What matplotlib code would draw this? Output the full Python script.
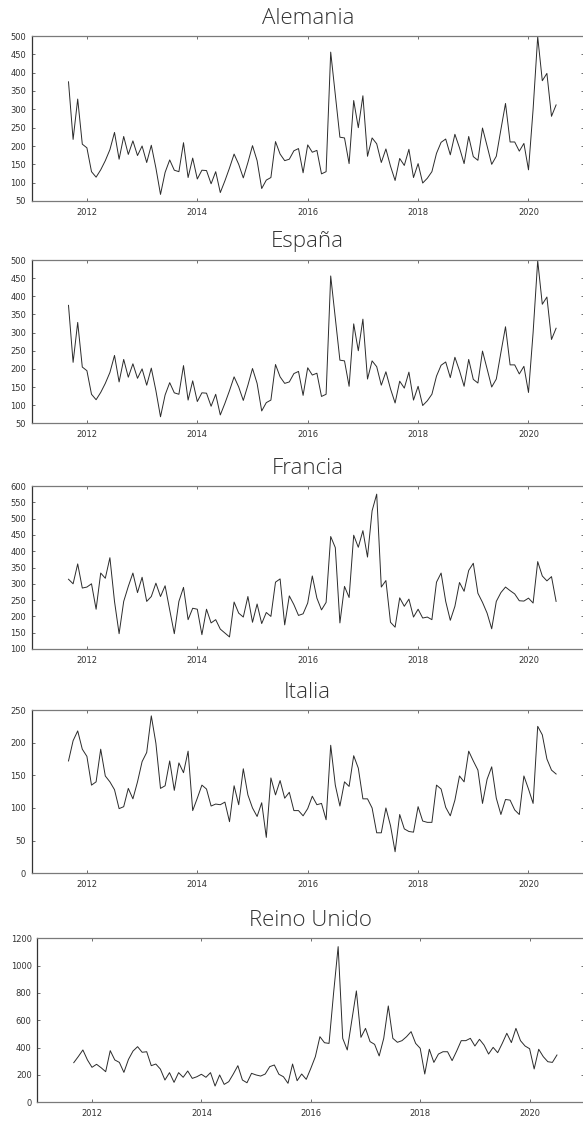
import matplotlib
matplotlib.use("Agg")
import matplotlib.pyplot as plt
import numpy as np

# Monthly series, Sep 2011 .. Jul 2020
start_year, start_month = 2011, 9

alemania = [375, 218, 328, 205, 195, 130, 115, 135, 160, 190,
            237, 164, 226, 177, 214, 174, 200, 155, 202, 140,
            68, 128, 162, 134, 130, 209, 114, 167, 110, 134,
            133, 97, 130, 73, 105, 140, 178, 150, 113, 155,
            201, 160, 84, 107, 114, 212, 178, 160, 164, 187,
            193, 127, 203, 183, 188, 124, 130, 456, 340, 224,
            222, 152, 324, 250, 337, 172, 222, 206, 155, 192,
            145, 106, 166, 147, 191, 114, 152, 99, 112, 130,
            180, 210, 219, 176, 232, 195, 152, 226, 171, 161,
            249, 200, 150, 172, 245, 316, 211, 211, 186, 207,
            135, 300, 498, 378, 398, 281, 312]

espana = list(alemania)

francia = [314, 300, 361, 287, 290, 300, 222, 333, 317, 380,
           246, 147, 246, 292, 333, 273, 320, 246, 261, 302,
           261, 294, 220, 147, 246, 289, 190, 225, 222, 144,
           222, 180, 190, 161, 149, 137, 244, 210, 198, 261,
           182, 238, 178, 212, 200, 305, 315, 174, 263, 236,
           203, 208, 241, 324, 256, 220, 243, 445, 411, 180,
           292, 258, 449, 412, 463, 382, 524, 575, 290, 310,
           182, 167, 257, 231, 253, 198, 222, 195, 198, 190,
           305, 333, 246, 188, 231, 304, 277, 341, 363, 271,
           243, 210, 162, 246, 273, 290, 279, 269, 248, 247,
           256, 241, 368, 324, 309, 322, 246]

italia = [172, 203, 218, 190, 179, 135, 140, 190, 149, 140,
          128, 99, 102, 130, 114, 140, 171, 185, 241, 199,
          130, 134, 172, 127, 169, 154, 187, 96, 115, 135,
          129, 103, 106, 105, 109, 79, 134, 105, 160, 120,
          100, 87, 108, 55, 146, 120, 142, 115, 124, 96,
          96, 88, 99, 118, 105, 107, 82, 196, 135, 103,
          140, 133, 180, 161, 114, 114, 100, 62, 62, 100,
          73, 33, 90, 68, 64, 63, 102, 80, 78, 78,
          135, 129, 101, 88, 112, 149, 140, 187, 172, 158,
          107, 144, 163, 115, 90, 113, 112, 97, 90, 149,
          129, 107, 225, 212, 175, 158, 152]

reino_unido = [290, 335, 383, 310, 256, 278, 253, 224, 378, 310,
               292, 219, 314, 375, 407, 366, 370, 268, 280, 243,
               163, 217, 146, 217, 183, 229, 175, 187, 205, 183,
               217, 119, 200, 131, 151, 207, 268, 163, 143, 212,
               200, 192, 207, 261, 273, 205, 187, 139, 280, 158,
               207, 168, 248, 334, 480, 436, 431, 800, 1139, 468,
               383, 600, 815, 475, 541, 444, 424, 339, 468, 705,
               468, 439, 451, 480, 517, 431, 395, 207, 388, 292,
               353, 370, 370, 305, 375, 451, 451, 468, 412, 461,
               419, 353, 402, 363, 431, 505, 437, 541, 451, 412,
               392, 244, 388, 334, 297, 292, 346]

titles = ["Alemania", "España", "Francia", "Italia", "Reino Unido"]
series = [alemania, espana, francia, italia, reino_unido]
ylims = [(50, 500), (50, 500), (100, 600), (0, 250), (0, 1200)]
ysteps = [50, 50, 50, 50, 200]
year_ticks = [2012, 2014, 2016, 2018, 2020]

W, H = 583, 1122
fig = plt.figure(figsize=(W / 100, H / 100), dpi=100)

# axes boxes in pixels: (left, top, right, bottom)
boxes = [(31.7, 36, 583.7, 201),
         (31.7, 260, 583.7, 423.3),
         (31.7, 486, 583.7, 649),
         (31.7, 710, 583.7, 873.3),
         (37.3, 938.3, 584.3, 1102.3)]

spine_col = "#7a7a7a"
for title, vals, ylim, step, box in zip(titles, series, ylims, ysteps, boxes):
    l, t, r, b = box
    ax = fig.add_axes([l / W, 1 - b / H, (r - l) / W, (b - t) / H])
    n = len(vals)
    x = np.array([start_year + (start_month - 1 + k) / 12.0 for k in range(n)])
    ax.plot(x, vals, color="#2b2b2b", lw=0.7)
    ax.set_xlim(2011, 2021)
    ax.set_ylim(*ylim)
    ax.set_xticks(year_ticks)
    ax.set_yticks(np.arange(ylim[0], ylim[1] + 1, step))
    ax.tick_params(direction="in", length=2.5, width=0.6, color="#555555",
                   top=True, right=True, labelsize=6, labelcolor="#333333")
    ax.tick_params(axis="x", pad=5)
    ax.tick_params(axis="y", pad=4)
    for s in ax.spines.values():
        s.set_color(spine_col)
        s.set_linewidth(0.9)
    ax.spines["left"].set_color("#333333")
    ax.set_title(title, fontsize=16, family=["Open Sans", "DejaVu Sans"],
                 fontweight="light", color="#333333", pad=9)

fig.savefig("out.png", dpi=100)
